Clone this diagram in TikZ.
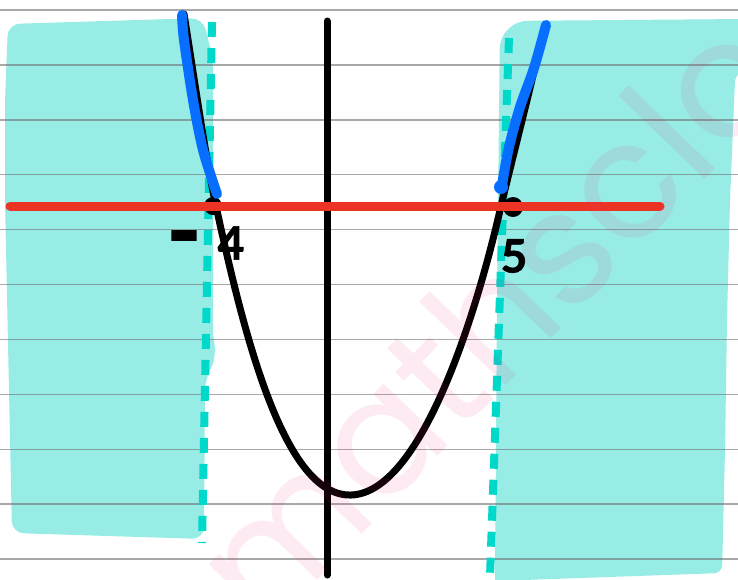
\documentclass[tikz,border=0pt]{standalone}
\usepackage{fontspec}
\newfontfamily\wmfont{Poppins}
\newfontfamily\digfont{Lato}[BoldFeatures={FakeBold=1.5}]
\definecolor{cyanfill}{RGB}{151,236,230}
\definecolor{dashcyan}{RGB}{0,216,202}
\definecolor{redl}{RGB}{236,52,36}
\definecolor{bluel}{RGB}{8,110,255}
\definecolor{rulegray}{RGB}{110,110,110}
\definecolor{wmpink}{RGB}{235,30,120}
\tikzset{
  rule/.style={draw=rulegray, line width=1.4pt, draw opacity=0.6},
  region/.style={fill=cyanfill},
  bound/.style={draw=dashcyan, line width=8pt, dash pattern=on 15pt off 11pt},
  curve/.style={draw=black, line width=7pt, line cap=round, line join=round},
  hl/.style={draw=bluel, line width=10pt, line cap=round, line join=round},
  digit/.style={font=\digfont\bfseries\fontsize{46}{46}\selectfont, inner sep=0pt},
  bigdash/.style={font=\digfont\bfseries\fontsize{92}{92}\selectfont, inner sep=0pt},
  wm/.style={font=\wmfont\fontsize{162}{162}\selectfont, text=wmpink, text opacity=0.09, inner sep=0pt}
}
\begin{document}
\begin{tikzpicture}[x=1pt,y=-1pt]
\useasboundingbox (0,0) rectangle (738,579);
\clip (0,0) rectangle (738,579);
\fill[white] (0,0) rectangle (738,579);
% shaded regions
\fill[region, rounded corners=12pt] (8,24) -- (203,18) -- (213,60) -- (213,340)
  -- (217,356) -- (205,380) -- (204,539) -- (12,533) -- (5,200) -- (5,100) -- cycle;
\fill[region] (497,300) [rounded corners=28pt] -- (500,21) [sharp corners] -- (745,19) -- (745,60)
  -- (735,80) -- (730,200) -- (727,320) -- (725,450) [rounded corners=8pt] -- (722,573)
  [sharp corners] -- (495,581) -- cycle;
% ruled lines
\foreach \k in {0,...,10} {
  \draw[rule] (0,{10+54.9*\k}) -- (738,{10+54.9*\k});
}
% dashed boundaries
\coordinate (lt) at (212,22);
\coordinate (lb) at (202,543);
\coordinate (rt) at (509,38);
\coordinate (rb) at (490,577);
\draw[bound] (lt) -- (lb);
\draw[bound] (rt) -- (rb);
% y-axis
\coordinate (axt) at (327,21);
\coordinate (axb) at (327,575);
\draw[curve] (axt) -- (axb);
% parabola
\coordinate (ptl) at (184,14);
\coordinate (pl) at (216,206);
\coordinate (pv) at (351,495);
\coordinate (pr) at (501,206);
\coordinate (ptr) at (545,25);
\draw[curve] (ptl) .. controls (196,90) and (206,160) .. (pl)
  .. controls (245,340) and (285,497) .. (pv)
  .. controls (420,493) and (475,320) .. (pr)
  .. controls (512,160) and (530,90) .. (ptr);
% root marks
\fill (213,206) circle (9pt);
\fill (513,207) circle (10pt);
% red line
\coordinate (rl) at (10,206);
\coordinate (rr) at (660,206);
\draw[draw=redl, line width=9pt, line cap=round] (rl) -- (rr);
% blue highlights
\draw[hl] plot[smooth, tension=0.5] coordinates {(182,15) (184,40) (193,100) (203,150) (217,194)};
\draw[hl] plot[smooth, tension=0.5] coordinates {(546,25) (534,68) (520,107) (509,147) (502,185)};
\fill[bluel] (501,187) circle (7pt);
% labels
\node[bigdash] (minus) at (184,247) {-};
\node[digit] (four) at (231,243) {4};
\node[digit] (five) at (514,256) {5};
% watermark
\node[wm, rotate=46, anchor=base west] (wmark) at (264,636) {mathsclo};
\end{tikzpicture}
\end{document}
